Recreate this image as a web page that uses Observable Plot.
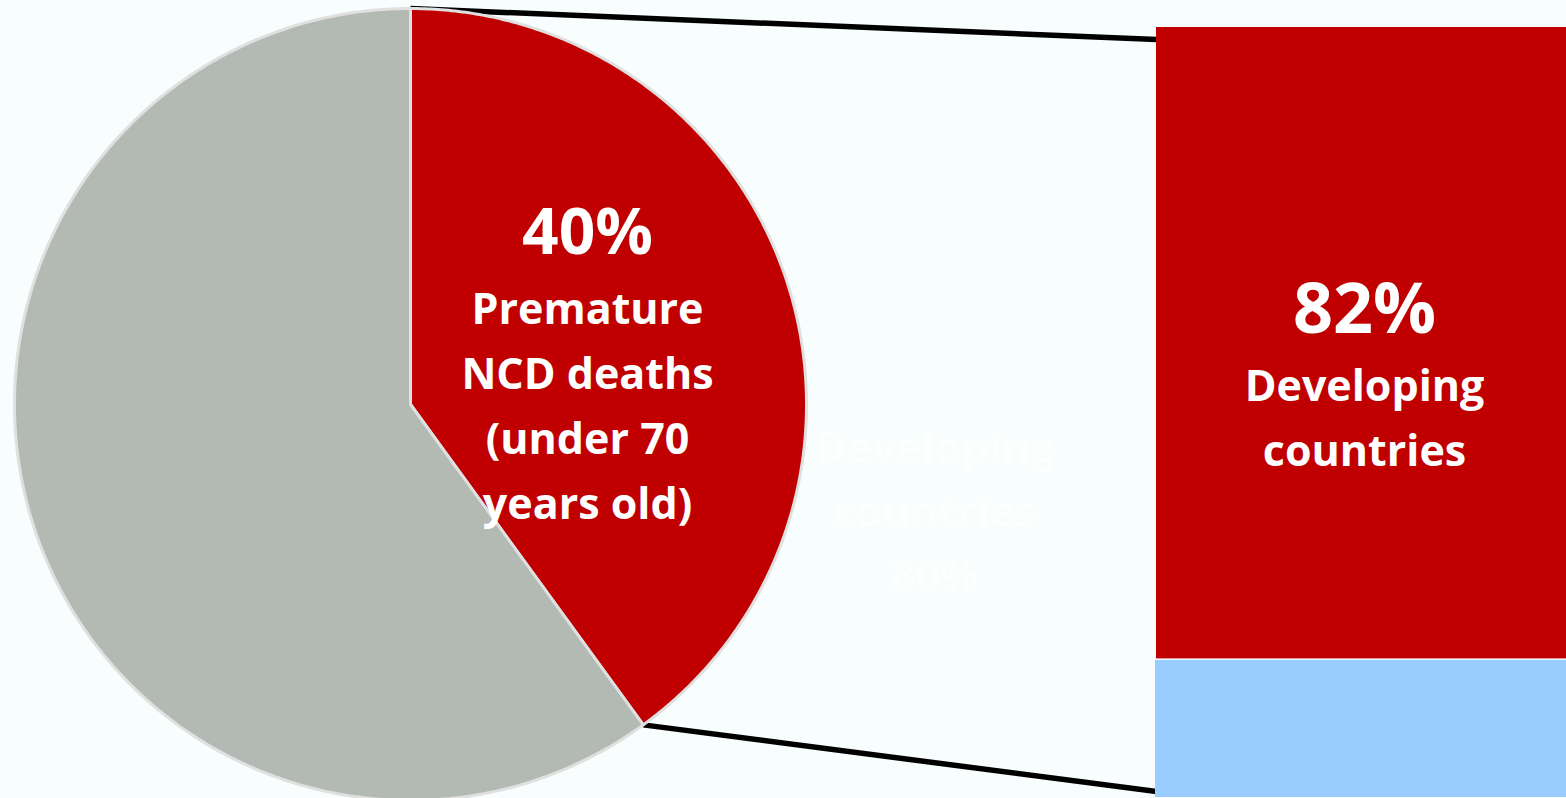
<!DOCTYPE html>
<html>
<head>
<meta charset="utf-8">
<script src="https://cdn.jsdelivr.net/npm/d3@7"></script>
<script src="https://cdn.jsdelivr.net/npm/@observablehq/plot@0.6"></script>
<style>
  html, body { margin: 0; padding: 0; background: #f8fdfe; }
  #chart svg { display: block; }
</style>
</head>
<body>
<div id="chart"></div>
<script>
// Share of NCD deaths that happen before age 70 (pie)
const pieLabels = ["Premature\nNCD deaths\n(under 70\nyears old)", "Other NCD deaths"];
const pieValues = [40, 60];
const pieColors = ["#c00000", "#b3b9b3"];

// Where those premature deaths occur (stacked column)
const barLabels = ["Developing\ncountries", "Developed countries"];
const barValues = [82, 18];
const barColors = ["#c00000", "#99ccff"];

// Faded label sitting in the gap between the two
const fadedLabel = "Developing\ncountries";
const fadedValue = 80;

// Layout
const W = 1566, H = 798;
const cx = 410, cy = 404, R = 396;
const barX1 = 1156, barX2 = 1566, barTop = 27, barBottom = 797;
const font = "'Open Sans', 'Liberation Sans', sans-serif";

// Pie slices as closed polygons, clockwise from 12 o'clock
const pieTotal = d3.sum(pieValues);
let acc = 0;
const slices = pieValues.map((v, i) => {
  const a0 = acc / pieTotal * 2 * Math.PI;
  acc += v;
  const a1 = acc / pieTotal * 2 * Math.PI;
  return {label: pieLabels[i], value: v, color: pieColors[i], a0, a1};
});
const pt = (a, r = R) => ({x: cx + r * Math.sin(a), y: cy - r * Math.cos(a)});
const slicePoints = slices.flatMap(s => {
  const n = Math.max(2, Math.ceil((s.a1 - s.a0) / (Math.PI / 360)));
  const pts = [{...pt(0, 0), slice: s.label, color: s.color}];
  for (let k = 0; k <= n; k++) {
    pts.push({...pt(s.a0 + (s.a1 - s.a0) * k / n), slice: s.label, color: s.color});
  }
  return pts;
});

// Stacked column segments
const barTotal = d3.sum(barValues);
let bacc = 0;
const segments = barValues.map((v, i) => {
  const y1 = barTop + bacc / barTotal * (barBottom - barTop);
  bacc += v;
  const y2 = barTop + bacc / barTotal * (barBottom - barTop);
  return {label: barLabels[i], value: v, color: barColors[i], y1, y2, index: i};
});

// Connector lines from the highlighted slice to the column
const focus = slices[0];
const links = [
  {x1: pt(focus.a0).x, y1: pt(focus.a0).y, x2: barX1, y2: barTop + 12},
  {x1: pt(focus.a1).x, y1: pt(focus.a1).y, x2: barX1, y2: barBottom - 6}
];

const midAngle = (focus.a0 + focus.a1) / 2;
const pieLabelX = cx + 0.47 * R * Math.sin(midAngle);
const barLabelX = (barX1 + barX2) / 2 + 3;
const topSegment = segments[0];

const textStyle = {fill: "white", fontWeight: "bold", fontFamily: font, textAnchor: "middle", lineAnchor: "bottom"};

const chart = Plot.plot({
  width: W,
  height: H,
  margin: 0,
  x: {domain: [0, W], range: [0, W], axis: null},
  y: {domain: [0, H], range: [0, H], axis: null},
  color: {type: "identity"},
  style: {background: "transparent"},
  marks: [
    Plot.link(links, {x1: "x1", y1: "y1", x2: "x2", y2: "y2", stroke: "black", strokeWidth: 5.5}),
    Plot.line(slicePoints, {x: "x", y: "y", z: "slice", fill: "color", stroke: "#e0e0e0", strokeWidth: 3, curve: "linear-closed", strokeLinejoin: "round"}),
    Plot.rect(segments.filter(d => d.index === 0), {x1: () => barX1, x2: () => barX2, y1: "y1", y2: "y2", fill: "color"}),
    Plot.rect(segments.filter(d => d.index > 0), {x1: () => barX1 - 1, x2: () => barX2, y1: "y1", y2: "y2", fill: "color", insetTop: 1.5}),
    // faded label in the gap
    Plot.text([fadedValue], {x: () => 934, y: () => 590, text: d => `${fadedLabel}\n${d}%`, ...textStyle, fill: "#ffffff", fillOpacity: 0.85, fontSize: 43, lineHeight: 1.48}),
    // pie labels
    Plot.text([focus], {x: () => pieLabelX, y: () => 253, text: d => `${d.value}%`, ...textStyle, fontSize: 64}),
    Plot.text([focus], {x: () => pieLabelX, y: () => 518, text: "label", ...textStyle, fontSize: 43, lineHeight: 1.51}),
    // column labels
    Plot.text([topSegment], {x: () => barLabelX, y: () => 332, text: d => `${d.value}%`, ...textStyle, fontSize: 70}),
    Plot.text([topSegment], {x: () => barLabelX, y: () => 465, text: "label", ...textStyle, fontSize: 43, lineHeight: 1.51})
  ]
});
document.getElementById("chart").appendChild(chart);
</script>
</body>
</html>
